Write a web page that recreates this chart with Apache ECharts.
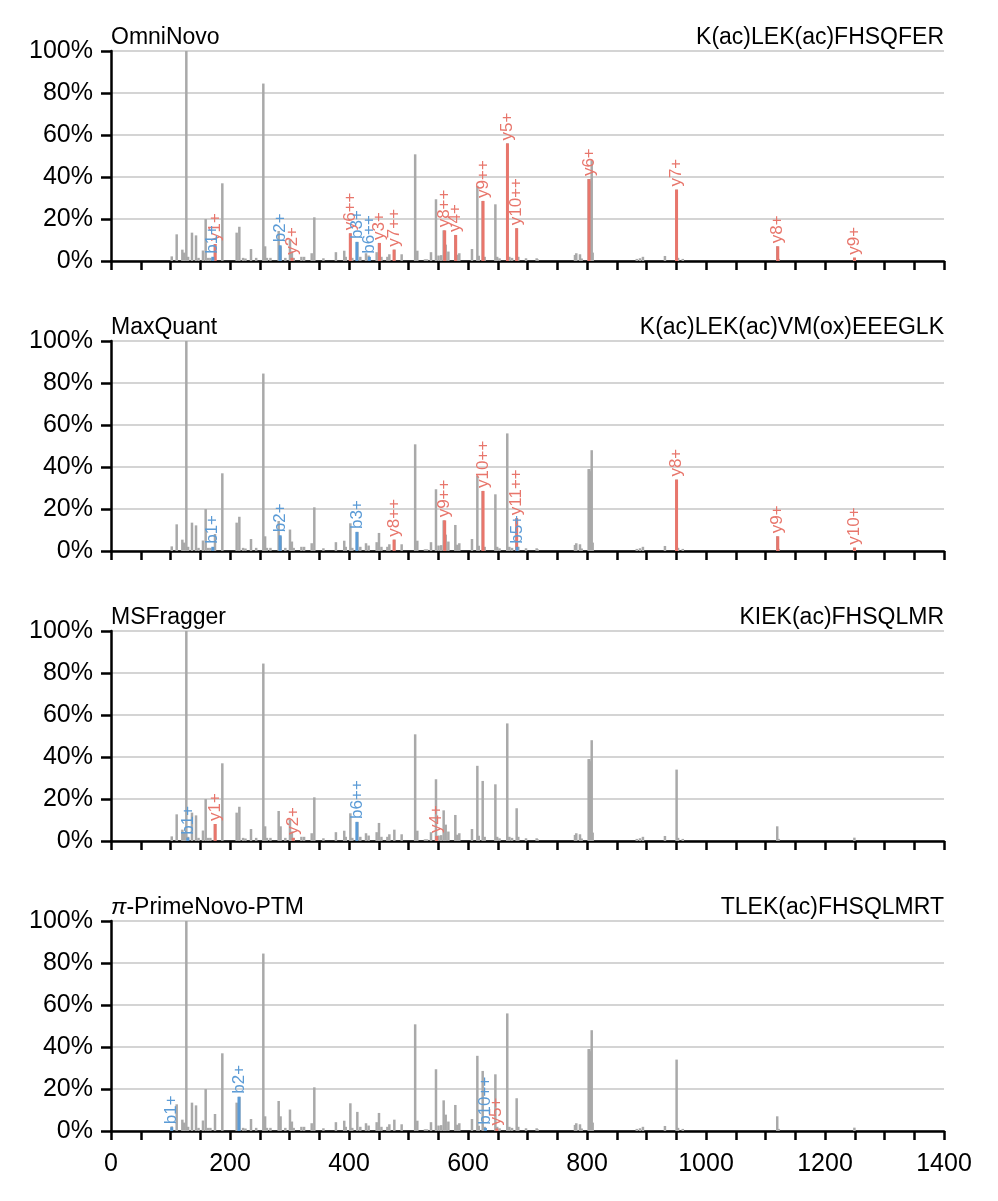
<!DOCTYPE html>
<html>
<head>
<meta charset="utf-8">
<title>Annotated spectra</title>
<script src="https://cdn.jsdelivr.net/npm/echarts@6/dist/echarts.min.js"></script>
<style>
  html, body { margin: 0; padding: 0; background: #fff; }
  #chart { width: 998px; height: 1201px; }
</style>
</head>
<body>
<div id="chart"></div>
<script>
// experimental spectrum, the same in every panel (m/z, relative intensity %)
var peakMz = [102.1, 110.4, 119.9, 123, 126.6, 129.5, 136.1, 142.9, 147.1, 154.6, 159.1, 163, 167,
  174.8, 187.1, 211.2, 215.7, 222, 226, 235.3, 244, 256, 259, 262, 268, 281.8, 285, 293, 300.8,
  304, 307, 320, 324.5, 337.3, 341.7, 357, 378, 392, 394.5, 402.3, 405.5, 414, 419, 428.6, 433,
  446.5, 450.4, 454.5, 464.5, 467.8, 476.2, 488.5, 511.2, 514.8, 527.7, 531, 537.8, 546.2, 550.5,
  555, 559.1, 562.5, 567, 578.7, 582, 585.4, 606.7, 615.7, 618, 624.7, 628, 646, 649, 653, 666,
  669.5, 674, 681.8, 684.5, 697.5, 715.4, 717, 779.8, 782, 788.2, 791, 802.8, 804, 805.3, 807.9,
  809.5, 883.7, 889, 894, 931, 950.6, 953, 961, 1119.7, 1122, 1249.4];
var peakInt = [2.2, 12.7, 5.4, 4, 100, 2, 13.5, 12.2, 1.5, 5, 20, 1.5, 1.5,
  8.1, 37, 13.5, 16.3, 1.5, 1.2, 5.7, 1.5, 84.5, 7, 1.5, 1.5, 14.3, 7, 1.5, 10.2,
  4.5, 1.5, 2, 2, 3.7, 20.8, 1.3, 4.2, 4.9, 2, 13.2, 1.5, 9.1, 2, 3.7, 2.6,
  4.2, 8.6, 2, 2, 3.2, 5.4, 3.2, 50.8, 4.9, 0.8, 0.8, 4.2, 29.4, 2.6,
  2.8, 14.6, 7.8, 4.5, 12.4, 3, 3.7, 5.7, 35.8, 2.5, 28.6, 2, 27, 2, 1.3, 56,
  2, 1.5, 15.6, 2, 1.3, 1.3, 0.8, 2.9, 3.7, 3.2, 1.2, 39, 39, 38, 48,
  4, 1, 1.3, 2, 2.4, 34, 1.5, 1, 7, 1, 1.6];

var toolNames = ['OmniNovo', 'MaxQuant', 'MSFragger', '{pi|π}-PrimeNovo-PTM'];
var sequences = ['K(ac)LEK(ac)FHSQFER', 'K(ac)LEK(ac)VM(ox)EEEGLK', 'KIEK(ac)FHSQLMR', 'TLEK(ac)FHSQLMRT'];

// matched fragment ions per panel
var omniIons = ['b1+', 'y1+', 'b2+', 'y2+', 'y6++', 'b3+', 'b6++', 'y3+', 'y7++', 'y8++', 'y4+',
  'y9++', 'y5+', 'y10++', 'y6+', 'y7+', 'y8+', 'y9+'];
var omniMz = [171.1, 175.1, 284.2, 304.2, 402.2, 413.2, 434.2, 451.2, 475.7, 560.8, 579.3,
  625.3, 666.3, 681.8, 803.4, 950.5, 1120.6, 1249.6];
var omniInt = [2, 8.1, 7.5, 1.5, 13.2, 9.1, 2, 8.6, 5.4, 14.6, 12.4,
  28.6, 56, 15.6, 39, 34, 7, 1.6];

var maxqIons = ['b1+', 'b2+', 'b3+', 'y8++', 'y9++', 'y10++', 'y11++', 'b5+', 'y8+', 'y9+', 'y10+'];
var maxqMz = [171.1, 284.2, 413.2, 475.7, 560.8, 625.3, 681.8, 682.4, 950.5, 1120.6, 1249.6];
var maxqInt = [2, 7.5, 9.1, 5.4, 14.6, 28.6, 15.6, 2, 34, 7, 1.6];

var msfIons = ['b1+', 'y1+', 'y2+', 'b6++', 'y4+'];
var msfMz = [129.1, 175.1, 306.2, 413.2, 547.3];
var msfInt = [1.6, 8.1, 1.5, 9.1, 2.4];

var primeIons = ['b1+', 'b2+', 'b10++', 'y5+'];
var primeMz = [102.1, 215.1, 629.3, 648.4];
var primeInt = [1.8, 16.3, 1.5, 1.2];

var yTicks = [0, 20, 40, 60, 80, 100];
var xLabelStep = 200;

var FONT = '"Liberation Sans", Arial, Helvetica, sans-serif';
var GRAY = '#a9a9a9';
var RED = '#e8766c';
var BLUE = '#5b9bd6';

var panelIons = [
  { ions: omniIons, mz: omniMz, inten: omniInt },
  { ions: maxqIons, mz: maxqMz, inten: maxqInt },
  { ions: msfIons, mz: msfMz, inten: msfInt },
  { ions: primeIons, mz: primeMz, inten: primeInt }
];

var chart = echarts.init(document.getElementById('chart'));

function spike(color, width, labels) {
  return function (params, api) {
    var x = api.value(0);
    var y = api.value(1);
    var p0 = api.coord([x, 0]);
    var p1 = api.coord([x, y]);
    var children = [{
      type: 'line',
      shape: { x1: p0[0], y1: p0[1], x2: p1[0], y2: p1[1] },
      style: { stroke: color, lineWidth: width }
    }];
    if (labels) {
      children.push({
        type: 'text',
        x: p1[0],
        y: p1[1] - 3,
        rotation: Math.PI / 2,
        style: {
          text: labels[params.dataIndex],
          fill: color,
          font: '17px ' + FONT,
          align: 'left',
          verticalAlign: 'middle'
        }
      });
    }
    return { type: 'group', children: children };
  };
}

var tops = [51, 341, 631, 921];
var grids = [], xAxes = [], yAxes = [], titles = [], series = [];

tops.forEach(function (top, i) {
  grids.push({ left: 111, right: 54, top: top, height: 210 });

  xAxes.push({
    type: 'value', gridIndex: i, min: 0, max: 1400, interval: 50,
    axisLine: { lineStyle: { color: '#000', width: 2.5 } },
    axisTick: { length: 9, lineStyle: { color: '#000', width: 2.5 } },
    splitLine: { show: false },
    axisLabel: {
      show: i === 3, margin: 21, color: '#000', fontSize: 25, fontFamily: FONT,
      formatter: function (v) { return v % xLabelStep === 0 ? String(v) : ''; }
    }
  });

  yAxes.push({
    type: 'value', gridIndex: i, min: yTicks[0], max: yTicks[yTicks.length - 1], interval: 20,
    axisLine: { show: true, lineStyle: { color: '#000', width: 2.5 } },
    axisTick: { show: true, length: 10, lineStyle: { color: '#000', width: 2.5 } },
    splitLine: { lineStyle: { color: '#d4d4d4', width: 2 } },
    axisLabel: { margin: 18, color: '#000', fontSize: 25, fontFamily: FONT, formatter: '{value}%' }
  });

  titles.push({
    text: toolNames[i], left: 111, top: top - 25, padding: 0,
    textStyle: {
      fontSize: 23, fontWeight: 'normal', color: '#000', fontFamily: FONT,
      rich: { pi: { fontSize: 23, fontStyle: 'italic', color: '#000', fontFamily: FONT } }
    }
  });
  titles.push({
    text: sequences[i], right: 54, top: top - 25, padding: 0,
    textStyle: { fontSize: 23, fontWeight: 'normal', color: '#000', fontFamily: FONT }
  });

  series.push({
    type: 'custom', xAxisIndex: i, yAxisIndex: i, silent: true,
    renderItem: spike(GRAY, 2.5),
    data: peakMz.map(function (m, k) { return [m, peakInt[k]]; })
  });

  var p = panelIons[i];
  ['y', 'b'].forEach(function (kind) {
    var idx = [];
    p.ions.forEach(function (name, k) { if (name.charAt(0) === kind) idx.push(k); });
    series.push({
      type: 'custom', xAxisIndex: i, yAxisIndex: i, silent: true,
      renderItem: spike(kind === 'y' ? RED : BLUE, 3, idx.map(function (k) { return p.ions[k]; })),
      data: idx.map(function (k) { return [p.mz[k], p.inten[k]]; })
    });
  });
});

chart.setOption({
  animation: false,
  backgroundColor: '#fff',
  title: titles,
  grid: grids,
  xAxis: xAxes,
  yAxis: yAxes,
  series: series
});
</script>
</body>
</html>
